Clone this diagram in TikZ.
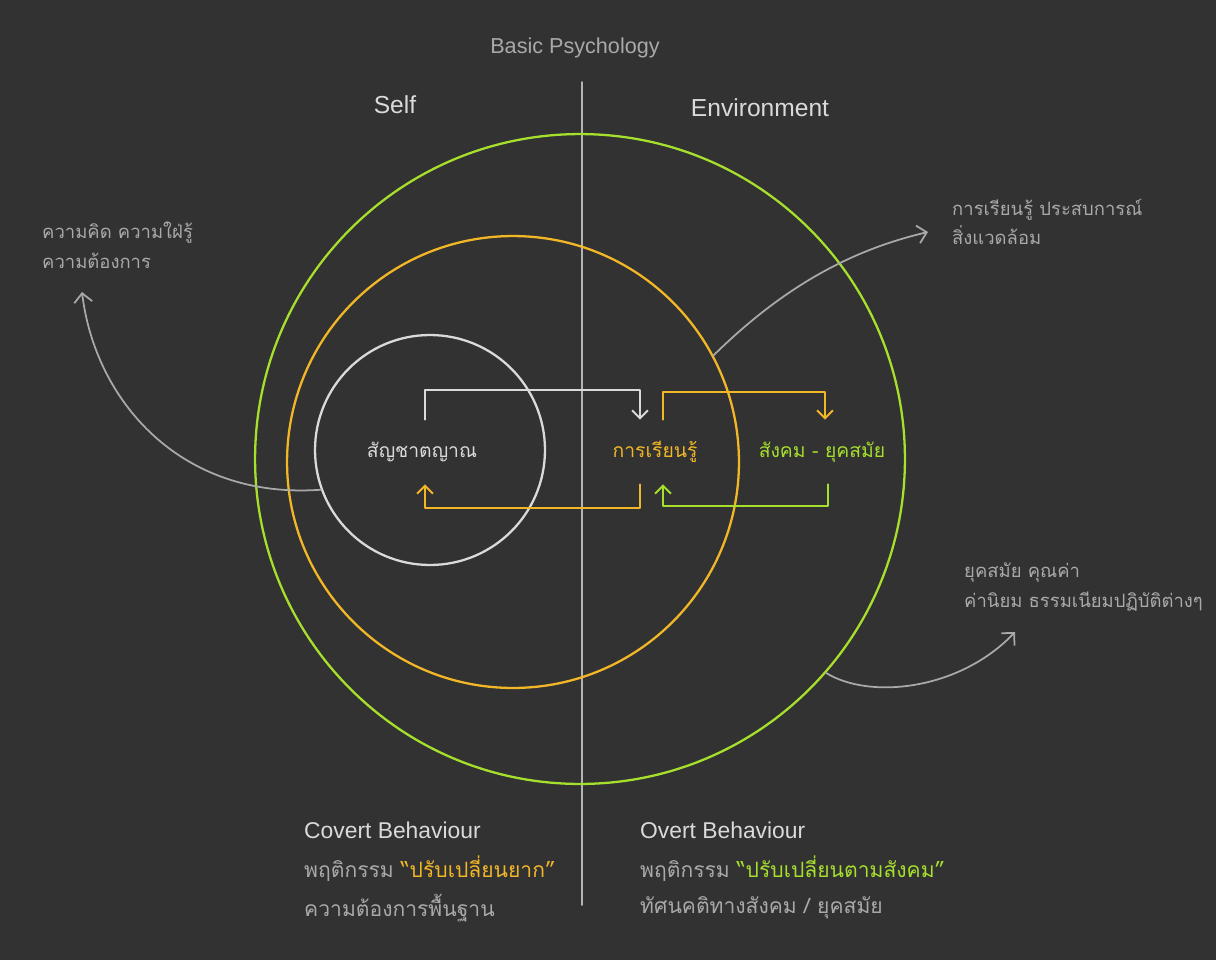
\documentclass[tikz,border=0pt]{standalone}
\usepackage{fontspec}
\setmainfont{Liberation Sans}
\newfontfamily\thaifont[Script=Thai]{Loma}
\usetikzlibrary{arrows.meta, positioning, calc}
\definecolor{bgGrey}{HTML}{323232}
\definecolor{psyGreen}{HTML}{A6DF2C}
\definecolor{psyOrange}{HTML}{F2B726}
\definecolor{psyWhite}{HTML}{DADADA}
\definecolor{psyGrey}{HTML}{A9A9A9}
\definecolor{psyLine}{HTML}{B4B4B4}
\tikzset{
  % open barbs like hand drawn ones
  every picture/.append style = {line cap=round, line join=round},
  ring/.style     = {circle, draw=#1, line width=1.3pt, inner sep=0pt},
  loopw/.style    = {-{Straight Barb[length=1.6mm, width=3.2mm]}, psyWhite, line width=1.1pt},
  loopo/.style    = {-{Straight Barb[length=1.6mm, width=3.2mm]}, psyOrange, line width=1.1pt},
  loopg/.style    = {-{Straight Barb[length=1.6mm, width=3.2mm]}, psyGreen, line width=1.1pt},
  curvearr/.style = {-{Straight Barb[length=1.8mm, width=3.6mm]}, psyGrey, line width=1pt},
  core/.style     = {font=\thaifont\fontsize{11}{13}\selectfont, inner sep=0pt, minimum height=1.28cm},
  note/.style     = {font=\thaifont\fontsize{10.5}{17}\selectfont, psyGrey, align=left, anchor=west},
  low/.style      = {font=\thaifont\fontsize{12}{14}\selectfont, psyGrey, anchor=west},
  head/.style     = {font=\fontsize{14}{17}\selectfont, psyWhite},
}

\begin{document}
\begin{tikzpicture}[x=0.02cm, y=-0.02cm]
  \fill[bgGrey] (0,0) rectangle (1216,960);
  \useasboundingbox (0,0) rectangle (1216,960);
  % titles and the split
  \node[head, psyGrey, font=\fontsize{12.3}{15}\selectfont] (title) at (575,48) {Basic Psychology};
  \node[head] (self) at (395,105) {Self};
  \node[head] (env) at (760,108) {Environment};
  \coordinate (splittop) at (582,82);
  \coordinate (splitbot) at (582,905);
  \draw[psyLine, line width=1.1pt] (splittop) -- (splitbot);
  % rings
  \node[ring=psyGreen, minimum size=13cm] (outer) at (580,459) {};
  \node[ring=psyOrange, minimum size=9.04cm] (mid) at (513,462) {};
  \node[ring=psyWhite, minimum size=4.6cm] (inner) at (430,450) {};
  % centre words
  \node[core, psyWhite] (instinct) at (422,452) {สัญชาตญาณ};
  \node[core, psyOrange] (learn) at (655,452) {การเรียนรู้};
  \node[core, psyGreen] (social) at (822,452) {สังคม - ยุคสมัย};
  % loops
  \draw[loopw] ([xshift=.06cm]instinct.north) -- ++(0,-30) -| ([xshift=-.3cm]learn.north);
  \draw[loopo] ([xshift=-.3cm]learn.south) -- ++(0,24) -| ([xshift=.06cm]instinct.south);
  \draw[loopo] ([xshift=.16cm]learn.north) -- ++(0,-28) -| ([xshift=.06cm]social.north);
  \draw[loopg] ([xshift=.12cm]social.south) -- ++(0,22) -| ([xshift=.16cm]learn.south);
  % side notes
  \node[note] (mind) at (36,245) {ความคิด ความใฝ่รู้\\ความต้องการ};
  \node[note] (exper) at (946,222) {การเรียนรู้ ประสบการณ์\\สิ่งแวดล้อม};
  \node[note] (values) at (958,587) {ยุคสมัย คุณค่า\\ค่านิยม ธรรมเนียมปฏิบัติต่างๆ};
  \coordinate (mindtip) at (82,292);
  \coordinate (expertip) at (928,232);
  \coordinate (valuestip) at (1015,632);
  \draw[curvearr] (inner.200) .. controls (180,500) and (95,400) .. (mindtip);
  \draw[curvearr] (mid.28) .. controls (790,280) and (860,248) .. (expertip);
  \draw[curvearr] (outer.-41) .. controls (870,700) and (960,690) .. (valuestip);
  % behaviour blocks
  \node[low, psyWhite, font=\fontsize{13}{16}\selectfont] (covert) at (298,830) {Covert Behaviour};
  \node[low] (covert2) at (298,869) {พฤติกรรม \textcolor{psyOrange}{“ปรับเปลี่ยนยาก”}};
  \node[low] (covert3) at (298,908) {ความต้องการพื้นฐาน};
  \node[low, psyWhite, font=\fontsize{13}{16}\selectfont] (overt) at (634,830) {Overt Behaviour};
  \node[low] (overt2) at (634,869) {พฤติกรรม \textcolor{psyGreen}{“ปรับเปลี่ยนตามสังคม”}};
  \node[low] (overt3) at (634,908) {ทัศนคติทางสังคม / ยุคสมัย};
\end{tikzpicture}
\end{document}
